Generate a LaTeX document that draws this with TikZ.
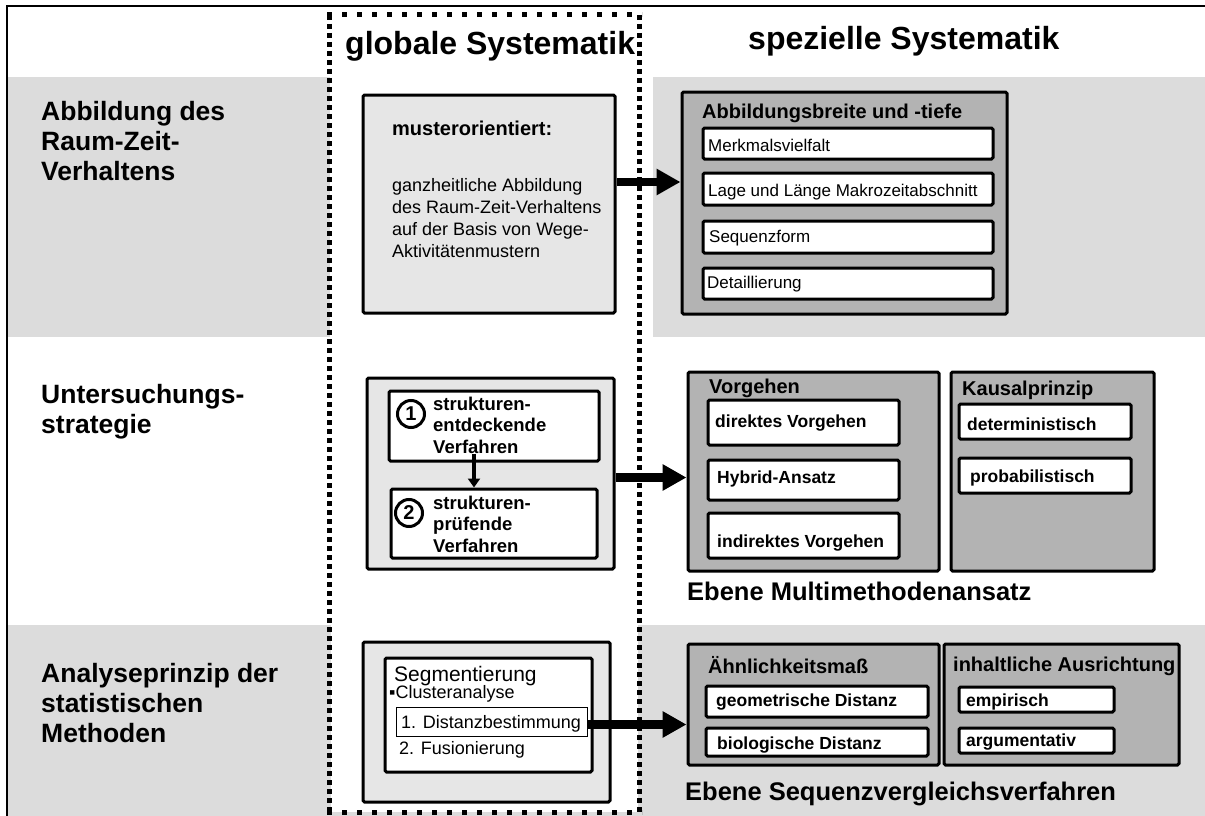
\documentclass[tikz,border=0pt]{standalone}
\usepackage{fontspec}
\setmainfont{Liberation Sans}
\usetikzlibrary{arrows.meta}

\definecolor{cBand}{HTML}{DCDCDC}
\definecolor{cLight}{HTML}{E6E6E6}
\definecolor{cDark}{HTML}{B3B3B3}

\tikzset{
  box/.style={draw=black, line width=3pt, rounded corners=1.5pt, inner sep=0pt},
  lightbox/.style={box, fill=cLight},
  darkbox/.style={box, fill=cDark},
  whitebox/.style={box, fill=white},
  thinbox/.style={draw=black, line width=1pt, fill=white, inner sep=0pt},
  numcircle/.style={circle, draw=black, line width=3pt, fill=white, minimum size=27pt, inner sep=0pt,
    font=\bfseries\fontsize{20}{20}\selectfont},
  lbl/.style={inner sep=0pt, anchor=base west},
  % multi-line labels: the base anchor sits on the last line
  rowhead/.style={lbl, align=left, font=\bfseries\fontsize{26.5}{30}\selectfont},
  coltitle/.style={lbl, font=\bfseries\fontsize{32}{32}\selectfont},
  boxtitle/.style={lbl, font=\bfseries\fontsize{20}{20}\selectfont},
  itemreg/.style={lbl, font=\fontsize{17}{17}\selectfont},
  itembold/.style={lbl, font=\bfseries\fontsize{17.5}{17.5}\selectfont},
  leveltitle/.style={lbl, font=\bfseries\fontsize{25.5}{25.5}\selectfont},
  bigarrow/.style={line width=8.5pt, -{Triangle[length=24pt,width=25pt]}},
  smallarrow/.style={line width=4pt, -{Triangle[length=9pt,width=12pt]}},
  frameV/.style={line width=5pt, dash pattern=on 5pt off 4pt},
  frameH/.style={line width=5pt, dash pattern=on 5pt off 10pt},
}

\begin{document}
\begin{tikzpicture}[x=1pt, y=-1pt]
\useasboundingbox (0,0) rectangle (1205,816);

% grey bands of the first and third row
\fill[cBand] (8,77) rectangle (330,337);
\fill[cBand] (653,77) rectangle (1205,337);
\fill[cBand] (8,625) rectangle (1205,816);
\fill[white] (331,15) rectangle (638,812);

% outer frame (left and top edges)
\draw[line width=2.5pt] (7,816) -- (7,6) -- (1205,6);

% dotted frame around the global column
\draw[frameV] (329,15) -- (329,814);
\draw[frameV] (639,15) -- (639,814);
\draw[frameH] (327,15) -- (642,15);
\draw[frameH] (327,812) -- (642,812);

% column titles
\node[coltitle] (tglob) at (345,55) {globale Systematik};
\node[coltitle] (tspez) at (748,50) {spezielle Systematik};

% row headings
\node[rowhead] (h1) at (41,180) {Abbildung des\\Raum-Zeit-\\Verhaltens};
\node[rowhead] (h2) at (41,433) {Untersuchungs-\\strategie};
\node[rowhead] (h3) at (41,742) {Analyseprinzip der\\statistischen\\Methoden};

% ---- row 1 ----
\node[lightbox, minimum width=252pt, minimum height=218pt] (m1) at (489,204) {};
\node[boxtitle] (m1t) at (392,135) {musterorientiert:};
\node[lbl, align=left, font=\fontsize{18}{21.7}\selectfont] (m1b) at (392,257)
  {ganzheitliche Abbildung\\des Raum-Zeit-Verhaltens\\auf der Basis von Wege-\\Aktivitätenmustern};

\node[darkbox, minimum width=325pt, minimum height=222pt] (abb) at (844.5,203) {};
\node[boxtitle] (abbt) at (702,118) {Abbildungsbreite und -tiefe};
\node[whitebox, minimum width=290pt, minimum height=31pt] (mv) at (848,143.5) {};
\node[whitebox, minimum width=290pt, minimum height=32pt] (lage) at (848,189) {};
\node[whitebox, minimum width=290pt, minimum height=32pt] (seq) at (848,237) {};
\node[whitebox, minimum width=290pt, minimum height=31pt] (detl) at (848,283.5) {};
\node[itemreg] at (708,151) {Merkmalsvielfalt};
\node[itemreg] at (708,196) {Lage und Länge Makrozeitabschnitt};
\node[itemreg] at (709,242) {Sequenzform};
\node[itemreg] at (707,288) {Detaillierung};

\coordinate (a1) at ([yshift=22pt]m1.east);
\draw[bigarrow] (a1) -- (a1 -| abb.west);

% ---- row 2 ----
\node[lightbox, minimum width=247pt, minimum height=191pt] (us) at (490.5,473.5) {};
\node[whitebox, minimum width=210pt, minimum height=70pt] (s1) at (494,426) {};
\node[whitebox, minimum width=206pt, minimum height=69pt] (s2) at (494,523.5) {};
\node[numcircle] (c1) at (411,414) {1};
\node[numcircle] (c2) at (409,513) {2};
\node[lbl, align=left, font=\bfseries\fontsize{18.5}{21.5}\selectfont] (s1t) at (433,453)
  {strukturen-\\entdeckende\\Verfahren};
\node[lbl, align=left, font=\bfseries\fontsize{18.5}{21.5}\selectfont] (s2t) at (433,552)
  {strukturen-\\prüfende\\Verfahren};
\coordinate (a4) at ([xshift=-20pt, yshift=9pt]s1.south);
\draw[smallarrow] (a4) -- (a4 |- s2.north);

\node[darkbox, minimum width=251pt, minimum height=199pt] (vor) at (813.5,471.5) {};
\node[darkbox, minimum width=203pt, minimum height=199pt] (kau) at (1052.5,471.5) {};
\node[boxtitle] at (709,393) {Vorgehen};
\node[boxtitle] at (962,395) {Kausalprinzip};
\node[whitebox, minimum width=191pt, minimum height=45pt] (dv) at (803.5,422.5) {};
\node[whitebox, minimum width=191pt, minimum height=40pt] (hy) at (803.5,480) {};
\node[whitebox, minimum width=191pt, minimum height=45pt] (iv) at (803.5,535.5) {};
\node[whitebox, minimum width=172pt, minimum height=35pt] (dt) at (1045,421.5) {};
\node[whitebox, minimum width=172pt, minimum height=35pt] (pb) at (1045,475.5) {};
\node[itembold] at (715,427) {direktes Vorgehen};
\node[itembold] at (717,483) {Hybrid-Ansatz};
\node[itembold] at (717,547) {indirektes Vorgehen};
\node[itembold] at (967,430) {deterministisch};
\node[itembold] at (970,482) {probabilistisch};
\node[leveltitle] (lv1) at (687,600) {Ebene Multimethodenansatz};

\coordinate (a2) at ([yshift=-4pt]us.east);
\draw[bigarrow] (a2) -- (a2 -| vor.west);

% ---- row 3 ----
\node[lightbox, minimum width=247pt, minimum height=160pt] (seg) at (486.5,722) {};
\node[whitebox, minimum width=207pt, minimum height=114pt] (segin) at (488.5,715) {};
\node[lbl, font=\fontsize{21}{21}\selectfont] at (394,681) {Segmentierung};
\node[lbl, font=\fontsize{18}{18}\selectfont] at (389,698) {▪Clusteranalyse};
\node[thinbox, minimum width=191pt, minimum height=29pt] (dist) at (491.5,721.5) {};
\node[lbl, font=\fontsize{18}{18}\selectfont] at (401,728) {1. Distanzbestimmung};
\node[lbl, font=\fontsize{18}{18}\selectfont] at (399,754) {2. Fusionierung};

\node[darkbox, minimum width=251pt, minimum height=121pt] (ahn) at (813.5,704.5) {};
\node[darkbox, minimum width=235pt, minimum height=121pt] (inh) at (1061.5,704.5) {};
\node[boxtitle] at (708,673) {Ähnlichkeitsmaß};
\node[boxtitle] at (953,671) {inhaltliche Ausrichtung};
\node[whitebox, minimum width=222pt, minimum height=31pt] (geo) at (817,701.5) {};
\node[whitebox, minimum width=222pt, minimum height=28pt] (bio) at (817,742) {};
\node[whitebox, minimum width=155pt, minimum height=25pt] (emp) at (1036.5,699.5) {};
\node[whitebox, minimum width=155pt, minimum height=25pt] (arg) at (1036.5,740.5) {};
\node[itembold] at (716,706) {geometrische Distanz};
\node[itembold] at (717,749) {biologische Distanz};
\node[itembold] at (966,706) {empirisch};
\node[itembold] at (966,746) {argumentativ};
\node[leveltitle] (lv2) at (685,800) {Ebene Sequenzvergleichsverfahren};

\coordinate (a3) at ([yshift=-3pt]dist.east);
\draw[bigarrow] (a3) -- (a3 -| ahn.west);
\end{tikzpicture}
\end{document}
